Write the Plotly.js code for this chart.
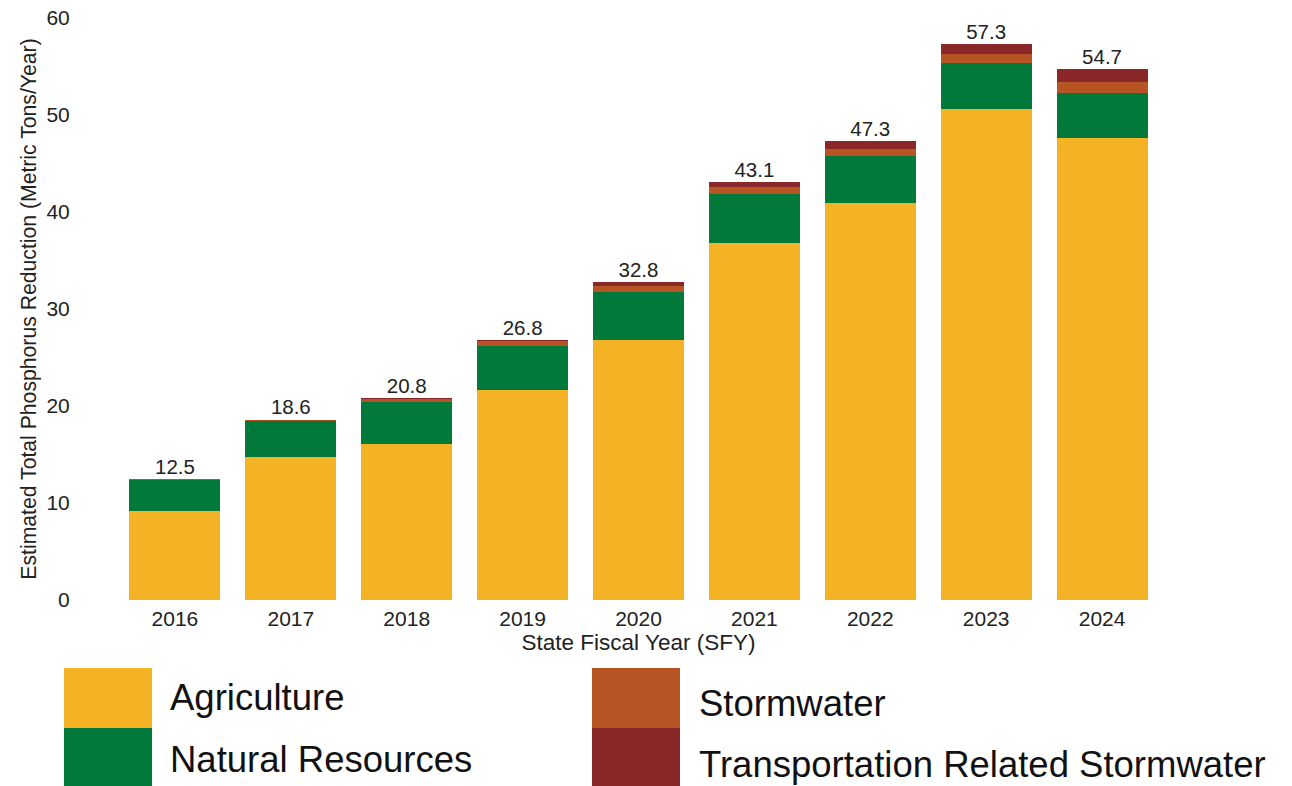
<!DOCTYPE html>
<html>
<head>
<meta charset="utf-8">
<script src="https://cdn.plot.ly/plotly-3.0.1.min.js"></script>
<style>html,body{margin:0;padding:0;background:#fff;}#chart{width:1292px;height:786px;}</style>
</head>
<body>
<div id="chart"></div>
<script>
var years = ['2016','2017','2018','2019','2020','2021','2022','2023','2024'];
var agriculture = [9.2, 14.7, 16.1, 21.6, 26.8, 36.8, 40.9, 50.6, 47.6];
var naturalResources = [3.2, 3.75, 4.3, 4.6, 5.0, 5.1, 4.9, 4.8, 4.7];
var stormwater = [0.1, 0.15, 0.3, 0.5, 0.6, 0.7, 0.7, 0.9, 1.1];
var transportation = [0.0, 0.0, 0.1, 0.1, 0.4, 0.5, 0.8, 1.0, 1.3];
var totals = [12.5, 18.6, 20.8, 26.8, 32.8, 43.1, 47.3, 57.3, 54.7];
var totalLabels = ['12.5','18.6','20.8','26.8','32.8','43.1','47.3','57.3','54.7'];
var seriesNames = ['Agriculture','Natural Resources','Stormwater','Transportation Related Stormwater'];
var seriesColors = ['#F4B324','#00793A','#B75424','#8A2829'];
var yTicks = [0,10,20,30,40,50,60];

var seriesValues = [agriculture, naturalResources, stormwater, transportation];
var font = 'Liberation Sans, Arial, sans-serif';

var traces = seriesValues.map(function(v, i){
  return {type:'bar', x:years, y:v, name:seriesNames[i], marker:{color:seriesColors[i]}, hoverinfo:'skip'};
});
traces.push({type:'scatter', mode:'text', x:years, y:totals, text:totalLabels,
  textposition:'top center', textfont:{family:font, size:20.5, color:'#222'}, hoverinfo:'skip', cliponaxis:false});

// legend built from series names/colors
var legendPos = [
  {x0:-0.0508, x1:0.0336, y0:-0.1168, y1:-0.2199, tx:0.0489, ty:-0.1667},
  {x0:-0.0508, x1:0.0336, y0:-0.2199, y1:-0.34, tx:0.0489, ty:-0.2732},
  {x0:0.4554, x1:0.5398, y0:-0.1168, y1:-0.2199, tx:0.5561, ty:-0.177},
  {x0:0.4554, x1:0.5398, y0:-0.2199, y1:-0.34, tx:0.5561, ty:-0.2818}
];
var shapes = [], annotations = [];
seriesNames.forEach(function(n, i){
  var p = legendPos[i];
  shapes.push({type:'rect', xref:'paper', yref:'paper', x0:p.x0, x1:p.x1, y0:p.y0, y1:p.y1,
    fillcolor:seriesColors[i], line:{width:0}, layer:'above'});
  annotations.push({xref:'paper', yref:'paper', x:p.tx, y:p.ty, xanchor:'left', yanchor:'middle',
    text:n, showarrow:false, font:{family:font, size:36.5, color:'#111'}});
});

var layout = {
  width:1292, height:786,
  margin:{l:117, r:132, t:18, b:186},
  paper_bgcolor:'#fff', plot_bgcolor:'#fff',
  barmode:'stack', bargap:0.215, showlegend:false,
  font:{family:font, color:'#222'},
  xaxis:{type:'category', range:[-0.5, 8.5], showgrid:false, zeroline:false, showline:false,
    ticks:'', ticklabelstandoff:4, tickfont:{family:font, size:21, color:'#222'},
    title:{text:'State Fiscal Year (SFY)', font:{family:font, size:22.5, color:'#222'}, standoff:3}},
  yaxis:{range:[0,60], tickvals:yTicks, showgrid:false, zeroline:false, showline:false,
    ticks:'outside', ticklen:42, tickcolor:'rgba(0,0,0,0)',
    tickfont:{family:font, size:21, color:'#222'},
    title:{text:'Estimated Total Phosphorus Reduction (Metric Tons/Year)', font:{family:font, size:21.2, color:'#222'}, standoff:4}},
  shapes:shapes, annotations:annotations
};
Plotly.newPlot('chart', traces, layout, {staticPlot:true});
</script>
</body>
</html>
